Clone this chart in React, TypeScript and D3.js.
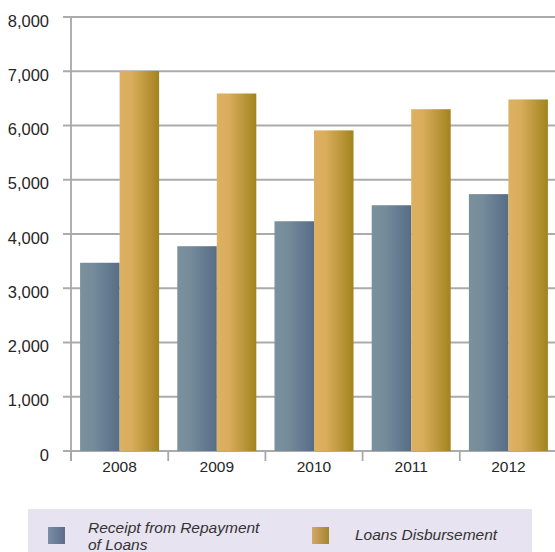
import React from "react";
import * as d3 from "d3";

const years = ["2008", "2009", "2010", "2011", "2012"];
const receipt = [3470, 3775, 4235, 4530, 4735];
const disbursement = [7005, 6590, 5910, 6300, 6480];
const yTicks = [0, 1000, 2000, 3000, 4000, 5000, 6000, 7000, 8000];
const seriesKeys = ["receipt", "disbursement"];
const seriesNames = ["Receipt from Repayment", "Loans Disbursement"];

export default function App() {
  const left = 71;
  const right = 557;
  const top = 17;
  const bottom = 451;
  const x0 = d3.scaleBand<string>().domain(years).range([left, right]).padding(0);
  const x1 = d3
    .scaleBand<string>()
    .domain(seriesKeys)
    .range([0, x0.bandwidth()])
    .paddingInner(0)
    .paddingOuter(0.23);
  const y = d3.scaleLinear().domain([0, 8000]).range([bottom, top]);
  const fmt = d3.format(",");
  const font = "'Liberation Sans', Arial, sans-serif";
  const values: Record<string, number[]> = { receipt, disbursement };
  const fills: Record<string, string> = { receipt: "url(#gBlue)", disbursement: "url(#gGold)" };

  return (
    <svg
      width={555}
      height={552}
      style={{ position: "absolute", left: 0, top: 0, background: "#fff" }}
      fontFamily={font}
    >
      <defs>
        <linearGradient id="gBlue" x1="0" x2="1" y1="0" y2="0">
          <stop offset="0" stopColor="#7b919d" />
          <stop offset="0.35" stopColor="#748b9a" />
          <stop offset="1" stopColor="#576c87" />
        </linearGradient>
        <linearGradient id="gGold" x1="0" x2="1" y1="0" y2="0">
          <stop offset="0" stopColor="#dcb162" />
          <stop offset="0.3" stopColor="#d9ad5c" />
          <stop offset="1" stopColor="#a2831e" />
        </linearGradient>
        <linearGradient id="lBlue" x1="0" x2="1" y1="0" y2="0">
          <stop offset="0" stopColor="#7a8ea6" />
          <stop offset="1" stopColor="#5b6c8c" />
        </linearGradient>
        <linearGradient id="lGold" x1="0" x2="1" y1="0" y2="0">
          <stop offset="0" stopColor="#d2a86a" />
          <stop offset="1" stopColor="#a3852a" />
        </linearGradient>
      </defs>

      {/* gridlines */}
      {yTicks.map((t) => (
        <line
          key={"g" + t}
          x1={63}
          x2={right}
          y1={y(t)}
          y2={y(t)}
          stroke="#ababab"
          strokeWidth={1.8}
        />
      ))}

      {/* y axis */}
      <line x1={left} x2={left} y1={top} y2={461} stroke="#a8a8a8" strokeWidth={1.8} />

      {/* x ticks */}
      {years.map((yr) => (
        <line
          key={"t" + yr}
          x1={x0(yr)!}
          x2={x0(yr)!}
          y1={bottom}
          y2={461}
          stroke="#a8a8a8"
          strokeWidth={1.8}
        />
      ))}

      {/* bars */}
      {years.map((yr, i) => (
        <g key={"b" + yr} transform={`translate(${x0(yr)},0)`}>
          {seriesKeys.map((k) => (
            <rect
              key={k}
              x={x1(k)!}
              y={y(values[k][i])}
              width={x1.bandwidth()}
              height={bottom - y(values[k][i])}
              fill={fills[k]}
            />
          ))}
        </g>
      ))}

      {/* y labels */}
      {yTicks.map((t) => (
        <text
          key={"l" + t}
          x={49}
          y={y(t)}
          dy="0.58em"
          textAnchor="end"
          fontSize={16.5}
          fill="#262626"
        >
          {fmt(t)}
        </text>
      ))}

      {/* x labels */}
      {years.map((yr) => (
        <text
          key={"x" + yr}
          x={x0(yr)! + x0.bandwidth() / 2}
          y={472}
          textAnchor="middle"
          fontSize={15.5}
          fill="#262626"
        >
          {yr}
        </text>
      ))}

      {/* legend */}
      <rect x={28} y={509} width={504} height={50} fill="#e7e3f0" />
      <rect x={48} y={527} width={17} height={17} fill="url(#lBlue)" />
      <rect x={312} y={527} width={17} height={17} fill="url(#lGold)" />
      <text x={88} y={533} fontSize={15.5} fontStyle="italic" fill="#333">
        {seriesNames[0]}
      </text>
      <text x={88} y={550} fontSize={15.5} fontStyle="italic" fill="#333">
        of Loans
      </text>
      <text x={355} y={540} fontSize={15.5} fontStyle="italic" fill="#333">
        {seriesNames[1]}
      </text>
    </svg>
  );
}
